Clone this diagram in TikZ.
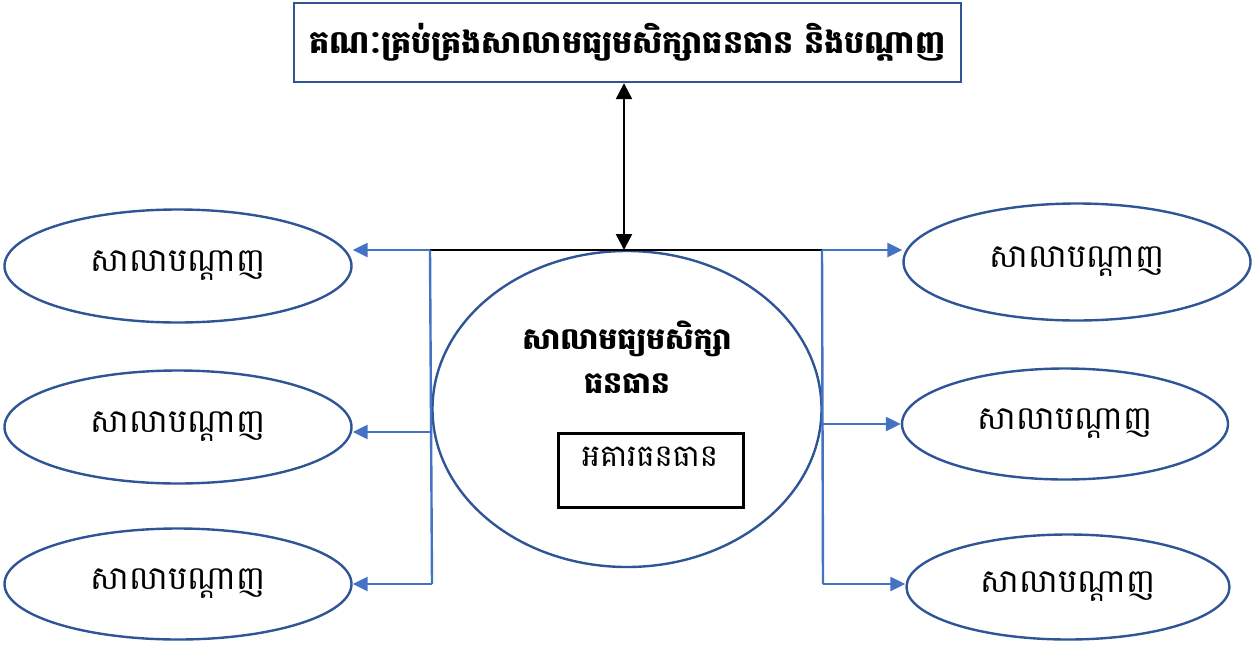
\documentclass[tikz,border=0pt]{standalone}
\usepackage{fontspec}
\newfontfamily\khmer[Script=Khmer]{Battambang}
\usetikzlibrary{shapes.geometric,arrows.meta}
\definecolor{ovalblue}{RGB}{47,85,151}
\definecolor{linkblue}{RGB}{68,114,196}
\begin{document}
\begin{tikzpicture}[x=1pt,y=-1pt,
    oval/.style={ellipse,draw=ovalblue,line width=2.4pt,inner sep=0pt,
      font=\khmer\fontsize{32.5}{38}\selectfont},
    link/.style={draw=linkblue,line width=2.4pt},
    tip/.style={-{Triangle[length=15pt,width=14pt]}}]
  \useasboundingbox (0,0) rectangle (1253,646);
  \node[draw=ovalblue,line width=2.4pt,minimum width=667pt,minimum height=79pt,
    inner sep=0pt,font=\khmer\bfseries\fontsize{31.7}{38}\selectfont]
    (board) at (627.5,42.5) {គណៈគ្រប់គ្រងសាលាមធ្យមសិក្សាធនធាន និងបណ្ដាញ};
  \node[oval,minimum width=389pt,minimum height=316pt] (school) at (627,409) {};
  \node[align=center,font=\khmer\bfseries\fontsize{30}{44}\selectfont]
    (schoolname) at (627,357) {សាលាមធ្យមសិក្សា\\ធនធាន};
  \node[draw,line width=2.2pt,minimum width=185pt,minimum height=74pt]
    (hall) at (651,470.5) {};
  \node[font=\khmer\fontsize{30.5}{34}\selectfont] (hallname) at (650,457) {អគារធនធាន};
  \draw
    (178,266) node[oval,minimum width=347pt,minimum height=113pt] (left1){សាលាបណ្ដាញ}
    (178,427) node[oval,minimum width=347pt,minimum height=113pt] (left2){សាលាបណ្ដាញ}
    (178,584) node[oval,minimum width=347pt,minimum height=111pt] (left3){សាលាបណ្ដាញ}
    (1077,262) node[oval,minimum width=347pt,minimum height=117pt] (right1){សាលាបណ្ដាញ}
    (1065,424) node[oval,minimum width=326pt,minimum height=111pt] (right2){សាលាបណ្ដាញ}
    (1068,587) node[oval,minimum width=323pt,minimum height=105pt] (right3){សាលាបណ្ដាញ};
  \coordinate (hub) at (624,250);
  \coordinate (lt) at (430,250);
  \coordinate (lm) at (431,432);
  \coordinate (lb) at (432,584);
  \coordinate (rt) at (822,250);
  \coordinate (rm) at (822,424);
  \coordinate (rb) at (823,584);
  \draw[line width=2.4pt,{Triangle[length=16pt,width=16pt]}-{Triangle[length=16pt,width=16pt]}]
    (board.south -| hub) -- (hub);
  \draw[line width=2.4pt] (lt) -- (rt);
  \begin{scope}[link]
    \draw (lt) -- (lb);
    \draw (rt) -- (rb);
    \draw[tip] (lt) -- (left1.east |- lt);
    \draw[tip] (lm) -- (left2.east |- lm);
    \draw[tip] (lb) -- (left3.east |- lb);
    \draw[tip] (rt) -- (right1.west |- rt);
    \draw[tip] (rm) -- (right2.west |- rm);
    \draw[tip] (rb) -- (right3.west |- rb);
  \end{scope}
\end{tikzpicture}
\end{document}
